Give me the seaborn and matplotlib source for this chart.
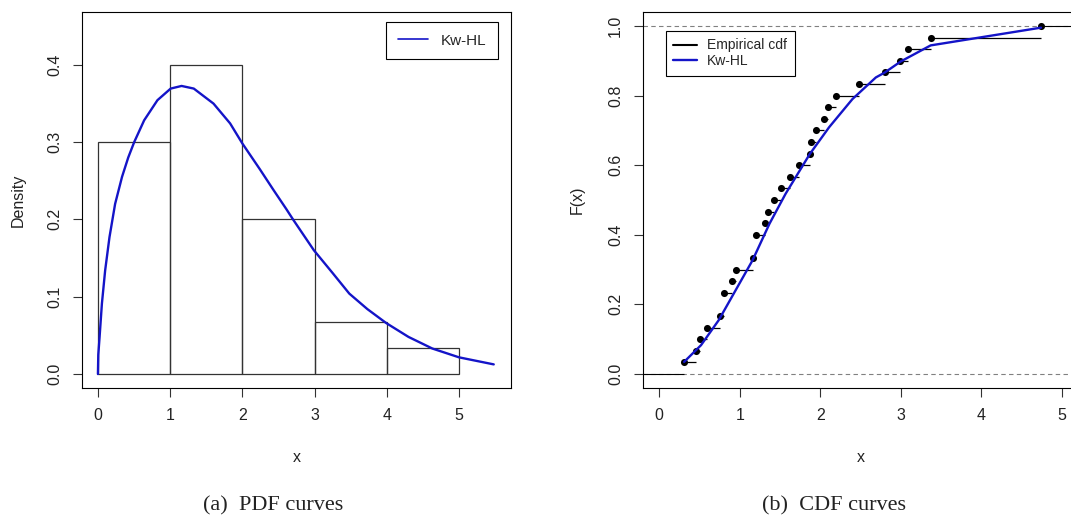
import numpy as np
import pandas as pd
import matplotlib
matplotlib.use("Agg")
import matplotlib.pyplot as plt
import seaborn as sns

sample = [0.31, 0.46, 0.51, 0.59, 0.76, 0.80, 0.80, 0.90, 0.95, 1.17,
          1.20, 1.20, 1.31, 1.35, 1.43, 1.51, 1.62, 1.73, 1.87, 1.89,
          1.95, 2.05, 2.09, 2.20, 2.48, 2.80, 2.99, 3.09, 3.37, 4.74]
hist_bins = [0, 1, 2, 3, 4, 5]

# fitted Kw-HL density
pdf_x = [0.0, 0.005, 0.023, 0.055, 0.10, 0.16, 0.238, 0.334, 0.42, 0.503,
         0.64, 0.824, 1.007, 1.158, 1.327, 1.60, 1.83, 2.0, 2.24, 2.43,
         2.61, 2.70, 2.99, 3.25, 3.48, 3.73, 3.99, 4.30, 4.63, 5.0, 5.48]
pdf_y = [0.0, 0.025, 0.048, 0.091, 0.134, 0.177, 0.220, 0.255, 0.280, 0.300,
         0.328, 0.354, 0.369, 0.3724, 0.369, 0.3496, 0.324, 0.298, 0.265, 0.238,
         0.213, 0.200, 0.160, 0.1305, 0.104, 0.084, 0.066, 0.048, 0.033, 0.0216,
         0.0125]

# fitted Kw-HL cdf
cdf_x = [0.31, 0.52, 0.74, 0.95, 1.16, 1.37, 1.57, 1.87, 2.11, 2.40,
         2.69, 2.80, 3.00, 3.37, 4.74]
cdf_y = [0.035, 0.083, 0.155, 0.241, 0.327, 0.432, 0.518, 0.632, 0.709, 0.790,
         0.852, 0.866, 0.898, 0.944, 0.995]

sns.set_theme(style="ticks")
plt.rcParams["font.family"] = ["Liberation Sans", "DejaVu Sans"]
plt.rcParams["axes.linewidth"] = 0.8

blue = "#1414c8"
fig = plt.figure(figsize=(10.71, 5.21), dpi=100)
ax1 = fig.add_axes([0.0766, 0.2553, 0.4006, 0.7217])
ax2 = fig.add_axes([0.6004, 0.2553, 0.4062, 0.7217])

# (a) histogram + pdf
sns.histplot(x=sample, bins=hist_bins, stat="density", fill=False,
             color="#333333", linewidth=0.9, ax=ax1)
sns.lineplot(x=pdf_x, y=pdf_y, color=blue, linewidth=1.7, sort=False,
             label="Kw-HL", ax=ax1)
ax1.set_xlim(-0.22, 5.72)
ax1.set_ylim(-0.018, 0.468)
ax1.set_xticks([0, 1, 2, 3, 4, 5])
ax1.set_yticks([0.0, 0.1, 0.2, 0.3, 0.4])
ax1.set_yticklabels(["0.0", "0.1", "0.2", "0.3", "0.4"])
ax1.set_ylabel("Density")
leg1 = ax1.legend(loc="upper right", bbox_to_anchor=(0.970, 0.9726),
                  borderaxespad=0, fontsize=11, handlelength=2.0,
                  handletextpad=0.85, borderpad=0.75, fancybox=False,
                  edgecolor="black", framealpha=1)
leg1.get_frame().set_linewidth(0.8)
leg1.get_lines()[0].set_linewidth(1.2)

# (b) empirical cdf + fitted cdf
srt = np.sort(np.array(sample))
ux, cnt = np.unique(srt, return_counts=True)
ecdf = np.cumsum(cnt) / len(srt)
ecdf_df = pd.DataFrame({"x": ux, "F": ecdf})

ax2.axhline(0, color="gray", lw=0.8, ls=(0, (4, 3)), zorder=1)
ax2.axhline(1, color="gray", lw=0.8, ls=(0, (4, 3)), zorder=1)
ax2.hlines(0, -0.2, ux[0], color="black", lw=0.8, zorder=2)
ax2.hlines(ecdf[:-1], ux[:-1], ux[1:], color="black", lw=0.9, zorder=2)
ax2.hlines(1, ux[-1], 5.2, color="black", lw=0.8, zorder=2)
sns.scatterplot(data=ecdf_df, x="x", y="F", color="black", s=26,
                edgecolor="black", linewidth=0, zorder=3, ax=ax2)
ax2.plot([], [], color="black", lw=1.5, label="Empirical cdf")
sns.lineplot(x=cdf_x, y=cdf_y, color=blue, linewidth=1.7, sort=False,
             label="Kw-HL", ax=ax2, zorder=4)
ax2.set_xlim(-0.2, 5.2)
ax2.set_ylim(-0.04, 1.04)
ax2.set_xticks([0, 1, 2, 3, 4, 5])
ax2.set_yticks([0.0, 0.2, 0.4, 0.6, 0.8, 1.0])
ax2.set_yticklabels(["0.0", "0.2", "0.4", "0.6", "0.8", "1.0"])
ax2.set_ylabel("F(x)")
leg2 = ax2.legend(loc="upper left", bbox_to_anchor=(0.052, 0.950),
                  borderaxespad=0, fontsize=10, handlelength=1.7,
                  handletextpad=0.75, borderpad=0.55, labelspacing=0.12,
                  fancybox=False, edgecolor="black", framealpha=1)
leg2.get_frame().set_linewidth(0.8)

for ax in (ax1, ax2):
    for s in ax.spines.values():
        s.set_visible(True)
        s.set_color("black")
        s.set_linewidth(0.8)
    ax.tick_params(axis="both", length=6.5, width=0.8, color="#333333",
                   labelsize=11.5, pad=8, labelcolor="#222222")
    ax.tick_params(axis="y", labelrotation=90)
    for lab in ax.get_yticklabels():
        lab.set_va("center")
    ax.set_xlabel("x", fontsize=11.5, color="#222222")
    ax.xaxis.set_label_coords(0.5, -0.165)
    ax.yaxis.label.set_size(11.5)
    ax.yaxis.label.set_color("#222222")
    ax.grid(False)

ax1.yaxis.set_label_coords(-56 / 429, 0.5)
ax2.yaxis.set_label_coords(-58 / 435, 0.5)

cap = dict(family=["Liberation Serif", "DejaVu Serif"], fontsize=16,
           ha="center", va="center", color="#222222")
fig.text(273 / 1071, 1 - 506 / 521, "(a)  PDF curves", **cap)
fig.text(834 / 1071, 1 - 506 / 521, "(b)  CDF curves", **cap)

fig.savefig("out.png", dpi=100, facecolor="white")
